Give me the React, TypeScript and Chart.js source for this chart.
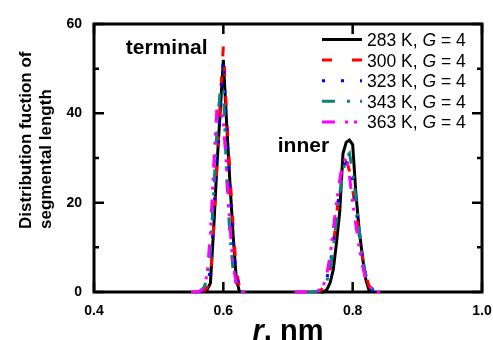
import React, { useEffect, useRef } from 'react';
import { Chart, registerables } from 'chart.js';

Chart.register(...registerables);

// ---- data ----
const rTerminal = [0.55, 0.555, 0.56, 0.565, 0.57, 0.575, 0.58, 0.585, 0.59, 0.595, 0.6, 0.605, 0.61, 0.615, 0.62, 0.625, 0.63, 0.635, 0.64, 0.645];
const rInner = [0.7, 0.705, 0.71, 0.715, 0.72, 0.725, 0.73, 0.735, 0.74, 0.745, 0.75, 0.755, 0.76, 0.765, 0.77, 0.775, 0.78, 0.785, 0.79, 0.795, 0.8, 0.805, 0.81, 0.815, 0.82, 0.825, 0.83, 0.835, 0.84, 0.845, 0.85, 0.855];

const k283Terminal = [null, null, null, null, 0, 0.5, 2, 14, 28, 40, 52, 38, 25, 13, 3, 0, null, null, null, null];
const k300Terminal = [null, null, null, 0, 0.3, 1, 3, 14, 28, 42, 55, 40, 27, 15, 5, 1, 0, null, null, null];
const k323Terminal = [null, null, null, 0, 0.5, 1.5, 5, 16, 29, 41, 52, 37, 24, 12, 4, 1, 0, null, null, null];
const k343Terminal = [null, null, 0, 0.3, 1, 3, 9, 22, 36, 45, 46, 26, 13, 5, 1.5, 0.5, 0, null, null, null];
const k363Terminal = [0, 0, 0, 0.3, 1, 4, 13, 28, 41, 41, 38, 28, 15, 6, 2, 0.5, 0, 0, null, null];

const k283Inner = [null, null, null, null, null, null, null, null, null, null, 0, 0, 0.5, 2, 5, 11, 18, 31, 33.5, 34, 33, 22, 14, 8, 3, 0.5, 0, null, null, null, null, null];
const k300Inner = [null, null, null, null, null, null, null, null, 0, 0, 0.3, 1, 2, 5, 10, 17, 24, 30, 30, 27, 23, 18, 13, 8, 4, 1.5, 0.5, 0, null, null, null, null];
const k323Inner = [null, null, null, null, null, null, null, null, null, 0, 0.3, 1, 3, 6, 11, 17, 23, 28, 29, 28, 24, 19, 13, 8, 4, 1.5, 0.5, 0, null, null, null, null];
const k343Inner = [null, null, null, null, null, null, 0, 0, 0, 0.2, 0.5, 1, 2.5, 5, 10, 16, 22, 27, 30, 31, 27, 21, 14, 8, 4, 2, 0.8, 0.3, 0, null, null, null];
const k363Inner = [null, null, 0, 0, 0, 0, 0, 0, 0, 0.3, 0.5, 1.5, 4, 8, 14, 20, 25, 29, 30, 26, 20, 15, 10, 6, 3, 1.5, 0.7, 0.3, 0, 0, null, null];

const temperatures = ['283 K', '300 K', '323 K', '343 K', '363 K'];
const gSymbol = 'G';
const gValue = '4';
const xTickValues = [0.4, 0.6, 0.8, 1.0];
const yTickValues = [0, 20, 40, 60];
const yMinorTickValues = [10, 30, 50];
const peakNames = ['terminal', 'inner'];
const yTitleLines = ['Distribution fuction of', 'segmental length'];
const xTitleSymbol = 'r';
const xTitleUnit = ', nm';

// ---- styles ----
const FONT = '"Liberation Sans", Arial, sans-serif';
const colors = ['#000000', '#ff0000', '#0000ff', '#0a8080', '#ff00ff'];
const dashes = [[], [10, 20], [3, 16], [13, 12, 3, 10], [13, 10, 3, 6, 3, 10]];
const terminalSets = [k283Terminal, k300Terminal, k323Terminal, k343Terminal, k363Terminal];
const innerSets = [k283Inner, k300Inner, k323Inner, k343Inner, k363Inner];

function buildData(term: (number | null)[], inner: (number | null)[]) {
  const pts: { x: number; y: number | null }[] = [];
  rTerminal.forEach((r, i) => pts.push({ x: r, y: term[i] }));
  pts.push({ x: 0.67, y: null });
  rInner.forEach((r, i) => pts.push({ x: r, y: inner[i] }));
  return pts;
}

const decorPlugin = {
  id: 'decor',
  beforeDatasetsDraw(chart: any) {
    const { ctx, chartArea } = chart;
    const { left, right, top, bottom } = chartArea;
    const xs = chart.scales.x;
    const ys = chart.scales.y;
    ctx.save();
    ctx.strokeStyle = '#000';
    ctx.lineWidth = 3;
    ctx.strokeRect(left, top, right - left, bottom - top);
    ctx.lineWidth = 2.5;
    ctx.beginPath();
    yTickValues.forEach((v) => {
      const py = ys.getPixelForValue(v);
      ctx.moveTo(left, py); ctx.lineTo(left + 10, py);
      ctx.moveTo(right, py); ctx.lineTo(right - 10, py);
    });
    yMinorTickValues.forEach((v) => {
      const py = ys.getPixelForValue(v);
      ctx.moveTo(left, py); ctx.lineTo(left + 5, py);
      ctx.moveTo(right, py); ctx.lineTo(right - 5, py);
    });
    xTickValues.forEach((v) => {
      const px = xs.getPixelForValue(v);
      ctx.moveTo(px, bottom); ctx.lineTo(px, bottom - 10);
      ctx.moveTo(px, top); ctx.lineTo(px, top + 10);
    });
    ctx.stroke();
    ctx.restore();
  },
  afterDatasetsDraw(chart: any) {
    const { ctx, chartArea } = chart;
    const xs = chart.scales.x;
    const ys = chart.scales.y;
    ctx.save();
    ctx.fillStyle = '#000';
    // peak labels
    ctx.font = `bold 21px ${FONT}`;
    ctx.textAlign = 'center';
    ctx.textBaseline = 'alphabetic';
    ctx.fillText(peakNames[0], xs.getPixelForValue(0.5123), ys.getPixelForValue(53.3));
    ctx.fillText(peakNames[1], xs.getPixelForValue(0.7238), ys.getPixelForValue(31.3));

    // legend
    const lx0 = 322, lx1 = 362, tx = 367;
    chart.data.datasets.forEach((ds: any, i: number) => {
      const ly = 39.5 + i * 20.6;
      ctx.save();
      ctx.strokeStyle = ds.borderColor;
      ctx.lineWidth = 3;
      ctx.setLineDash(ds.borderDash || []);
      ctx.beginPath();
      ctx.moveTo(lx0, ly); ctx.lineTo(lx1, ly);
      ctx.stroke();
      ctx.restore();
      const base = ly + 6.5;
      ctx.textAlign = 'left';
      let x = tx;
      ctx.font = `17.5px ${FONT}`;
      const p1 = `${temperatures[i]}, `;
      ctx.fillText(p1, x, base); x += ctx.measureText(p1).width;
      ctx.font = `italic 17.5px ${FONT}`;
      ctx.fillText(gSymbol, x, base); x += ctx.measureText(gSymbol).width;
      ctx.font = `17.5px ${FONT}`;
      ctx.fillText(` = ${gValue}`, x, base);
    });

    // y title
    ctx.font = `bold 17px ${FONT}`;
    ctx.textAlign = 'left';
    ctx.textBaseline = 'middle';
    [26, 46].forEach((cx, i) => {
      ctx.save();
      ctx.translate(cx, 229);
      ctx.rotate(-Math.PI / 2);
      ctx.fillText(yTitleLines[i], 0, 0);
      ctx.restore();
    });

    // x title
    ctx.textBaseline = 'alphabetic';
    ctx.font = `italic bold 29px ${FONT}`;
    const w1 = ctx.measureText(xTitleSymbol).width;
    ctx.font = `bold 29px ${FONT}`;
    const w2 = ctx.measureText(xTitleUnit).width;
    const cx = (chartArea.left + chartArea.right) / 2;
    const sx = cx - (w1 + w2) / 2;
    ctx.font = `italic bold 29px ${FONT}`;
    ctx.fillText(xTitleSymbol, sx, 340);
    ctx.font = `bold 29px ${FONT}`;
    ctx.fillText(xTitleUnit, sx + w1, 340);
    ctx.restore();
  },
};

export default function App() {
  const ref = useRef<HTMLCanvasElement | null>(null);
  useEffect(() => {
    if (!ref.current) return;
    const datasets = temperatures.map((t, i) => ({
      label: `${t}, G = ${gValue}`,
      data: buildData(terminalSets[i], innerSets[i]),
      borderColor: colors[i],
      backgroundColor: colors[i],
      borderWidth: 3,
      borderDash: dashes[i],
      pointRadius: 0,
      tension: 0,
      spanGaps: false,
      clip: false as any,
      order: 5 - i,
    }));
    const chart = new Chart(ref.current, {
      type: 'line',
      data: { datasets },
      options: {
        animation: false,
        responsive: false,
        devicePixelRatio: 1,
        layout: { padding: { top: 24, right: 11, left: 0, bottom: 0 } },
        plugins: { legend: { display: false }, tooltip: { enabled: false } },
        scales: {
          x: {
            type: 'linear',
            min: 0.4,
            max: 1.0,
            grid: { display: false, drawTicks: false },
            border: { display: false },
            afterBuildTicks: (s: any) => { s.ticks = xTickValues.map((v) => ({ value: v })); },
            afterFit: (s: any) => { s.height = 48; s.paddingLeft = 0; s.paddingRight = 0; },
            ticks: {
              padding: 11,
              color: '#000',
              font: { family: FONT, size: 14, weight: 'bold' },
              callback: (v: any) => Number(v).toFixed(1),
              maxRotation: 0,
              autoSkip: false,
            },
          },
          y: {
            type: 'linear',
            min: 0,
            max: 60,
            grid: { display: false, drawTicks: false },
            border: { display: false },
            afterBuildTicks: (s: any) => { s.ticks = yTickValues.map((v) => ({ value: v })); },
            afterFit: (s: any) => { s.width = 94; s.paddingTop = 0; s.paddingBottom = 0; },
            ticks: {
              padding: 12,
              color: '#000',
              font: { family: FONT, size: 14, weight: 'bold' },
              callback: (v: any) => String(v),
            },
          },
        },
      },
      plugins: [decorPlugin],
    });
    return () => chart.destroy();
  }, []);
  return (
    <div style={{ position: 'absolute', left: 0, top: 0, width: 493, height: 340, background: '#fff', overflow: 'hidden' }}>
      <canvas ref={ref} width={493} height={340} style={{ display: 'block' }} />
    </div>
  );
}
